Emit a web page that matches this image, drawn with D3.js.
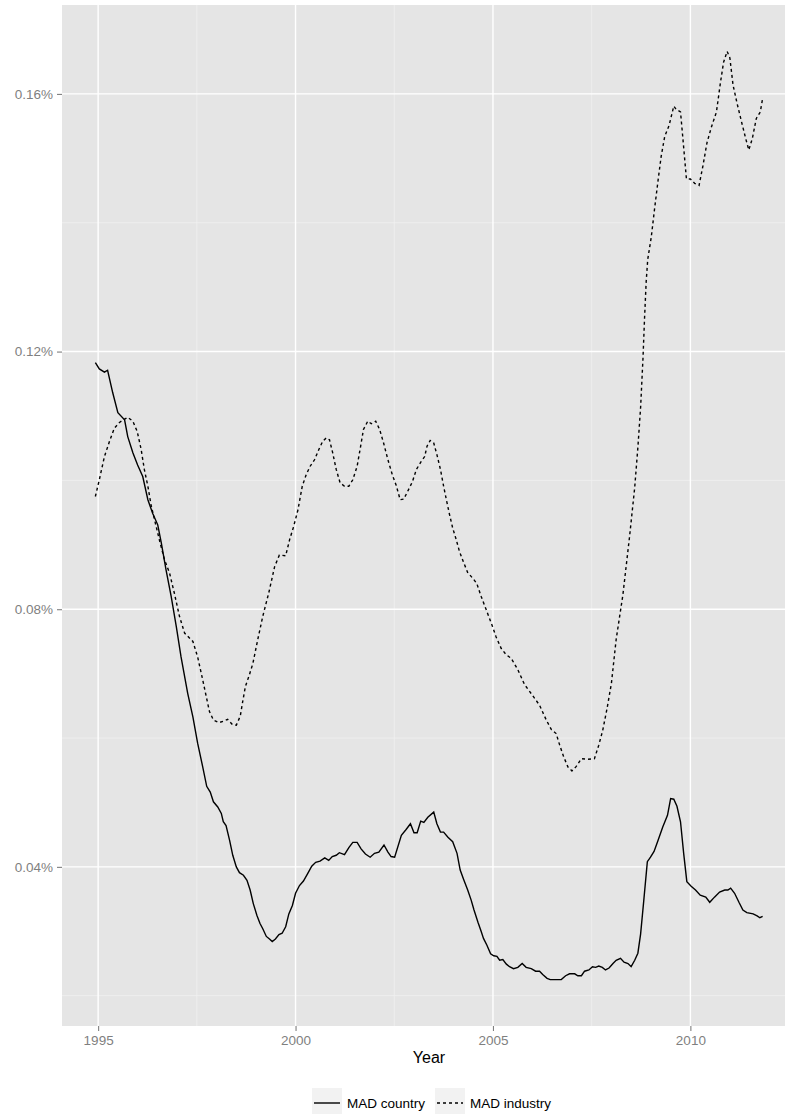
<!DOCTYPE html>
<html>
<head>
<meta charset="utf-8">
<script src="https://cdn.jsdelivr.net/npm/d3@7"></script>
<style>
  body { margin: 0; background: #ffffff; overflow: hidden; }
  svg { display: block; font-family: "Liberation Sans", Arial, sans-serif; }
</style>
</head>
<body>
<svg id="chart"></svg>
<script>
// values in percent, [year, value]
const madCountry = [
  [1994.93, 0.1183], [1995.03, 0.1173], [1995.16, 0.1168], [1995.24, 0.1171], [1995.37, 0.1136],
  [1995.50, 0.1105], [1995.67, 0.1094], [1995.75, 0.1068], [1995.88, 0.1043], [1996.00, 0.1024],
  [1996.13, 0.1006], [1996.26, 0.0970], [1996.38, 0.0949], [1996.51, 0.0931], [1996.60, 0.0903],
  [1996.72, 0.0861], [1996.85, 0.0820], [1996.98, 0.0773], [1997.10, 0.0726], [1997.27, 0.0669],
  [1997.40, 0.0633], [1997.52, 0.0592], [1997.65, 0.0555], [1997.75, 0.0525], [1997.84, 0.0516],
  [1997.92, 0.0501], [1998.03, 0.0493], [1998.12, 0.0483], [1998.17, 0.0470], [1998.24, 0.0464],
  [1998.33, 0.0441], [1998.41, 0.0418], [1998.50, 0.0400], [1998.58, 0.0391], [1998.68, 0.0387],
  [1998.77, 0.0379], [1998.85, 0.0364], [1998.93, 0.0343], [1999.02, 0.0325], [1999.10, 0.0312],
  [1999.17, 0.0304], [1999.26, 0.0292], [1999.34, 0.0288], [1999.41, 0.0284], [1999.49, 0.0288],
  [1999.58, 0.0295], [1999.66, 0.0297], [1999.75, 0.0307], [1999.83, 0.0327], [1999.92, 0.0340],
  [2000.00, 0.0359], [2000.10, 0.0371], [2000.20, 0.0378], [2000.31, 0.0390], [2000.41, 0.0401],
  [2000.51, 0.0407], [2000.62, 0.0409], [2000.74, 0.0414], [2000.84, 0.0410], [2000.93, 0.0416],
  [2001.03, 0.0418], [2001.11, 0.0422], [2001.24, 0.0419], [2001.35, 0.0430], [2001.45, 0.0438],
  [2001.56, 0.0438], [2001.66, 0.0428], [2001.77, 0.0420], [2001.89, 0.0415], [2002.00, 0.0421],
  [2002.11, 0.0423], [2002.24, 0.0434], [2002.34, 0.0423], [2002.42, 0.0416], [2002.51, 0.0415],
  [2002.68, 0.0449], [2002.80, 0.0458], [2002.91, 0.0467], [2003.00, 0.0453], [2003.08, 0.0453],
  [2003.17, 0.0471], [2003.25, 0.0469], [2003.35, 0.0477], [2003.50, 0.0485], [2003.58, 0.0467],
  [2003.67, 0.0454], [2003.75, 0.0454], [2003.86, 0.0446], [2003.98, 0.0439], [2004.09, 0.0421],
  [2004.17, 0.0395], [2004.26, 0.0380], [2004.36, 0.0364], [2004.45, 0.0348], [2004.52, 0.0333],
  [2004.62, 0.0314], [2004.70, 0.0300], [2004.76, 0.0289], [2004.85, 0.0278], [2004.94, 0.0265],
  [2005.02, 0.0262], [2005.10, 0.0261], [2005.17, 0.0255], [2005.25, 0.0256], [2005.34, 0.0249],
  [2005.42, 0.0245], [2005.52, 0.0242], [2005.63, 0.0244], [2005.74, 0.0250], [2005.84, 0.0244],
  [2005.97, 0.0242], [2006.08, 0.0238], [2006.18, 0.0238], [2006.26, 0.0233], [2006.37, 0.0227],
  [2006.45, 0.0225], [2006.60, 0.0225], [2006.73, 0.0225], [2006.84, 0.0231], [2006.94, 0.0234],
  [2007.07, 0.0234], [2007.15, 0.0231], [2007.24, 0.0231], [2007.32, 0.0238], [2007.43, 0.0240],
  [2007.52, 0.0245], [2007.60, 0.0244], [2007.68, 0.0246], [2007.77, 0.0244], [2007.85, 0.0240],
  [2007.94, 0.0243], [2008.04, 0.0250], [2008.12, 0.0255], [2008.23, 0.0258], [2008.32, 0.0252],
  [2008.42, 0.0250], [2008.50, 0.0245], [2008.59, 0.0255], [2008.67, 0.0266], [2008.74, 0.0296],
  [2008.82, 0.0348], [2008.91, 0.0408], [2008.99, 0.0415], [2009.08, 0.0424], [2009.18, 0.0441],
  [2009.30, 0.0462], [2009.42, 0.0480], [2009.50, 0.0506], [2009.58, 0.0505], [2009.66, 0.0494],
  [2009.75, 0.0470], [2009.83, 0.0421], [2009.91, 0.0377], [2010.02, 0.0370], [2010.13, 0.0364],
  [2010.25, 0.0356], [2010.39, 0.0353], [2010.49, 0.0345], [2010.61, 0.0353], [2010.74, 0.0361],
  [2010.87, 0.0364], [2010.95, 0.0364], [2011.02, 0.0367], [2011.12, 0.0359], [2011.23, 0.0345],
  [2011.33, 0.0333], [2011.43, 0.0329], [2011.59, 0.0327], [2011.69, 0.0324], [2011.76, 0.0321],
  [2011.83, 0.0323]
];

const madIndustry = [
  [1994.93, 0.0975], [1995.03, 0.1001], [1995.16, 0.1037], [1995.29, 0.1061], [1995.41, 0.1081],
  [1995.54, 0.1090], [1995.67, 0.1095], [1995.75, 0.1098], [1995.88, 0.1092], [1995.99, 0.1076],
  [1996.09, 0.1048], [1996.17, 0.1017], [1996.26, 0.0991], [1996.34, 0.0962], [1996.44, 0.0936],
  [1996.55, 0.0908], [1996.68, 0.0877], [1996.81, 0.0856], [1996.93, 0.0825], [1997.06, 0.0789],
  [1997.19, 0.0763], [1997.40, 0.0750], [1997.52, 0.0726], [1997.65, 0.0690], [1997.74, 0.0664],
  [1997.82, 0.0641], [1997.92, 0.0628], [1998.06, 0.0624], [1998.17, 0.0626], [1998.28, 0.0629],
  [1998.40, 0.0621], [1998.50, 0.0620], [1998.60, 0.0634], [1998.66, 0.0656], [1998.73, 0.0680],
  [1998.83, 0.0698], [1998.92, 0.0716], [1999.04, 0.0752], [1999.17, 0.0789], [1999.32, 0.0825],
  [1999.47, 0.0866], [1999.59, 0.0884], [1999.75, 0.0883], [1999.85, 0.0908], [1999.95, 0.0928],
  [2000.06, 0.0954], [2000.17, 0.0991], [2000.27, 0.1009], [2000.37, 0.1022], [2000.48, 0.1032],
  [2000.59, 0.1048], [2000.69, 0.1061], [2000.78, 0.1066], [2000.86, 0.1063], [2000.94, 0.1043],
  [2001.03, 0.1017], [2001.13, 0.0996], [2001.24, 0.0991], [2001.35, 0.0991], [2001.45, 0.1001],
  [2001.56, 0.1022], [2001.64, 0.1050], [2001.72, 0.1079], [2001.83, 0.1092], [2001.92, 0.1088],
  [2002.03, 0.1092], [2002.13, 0.1079], [2002.23, 0.1058], [2002.34, 0.1032], [2002.45, 0.1009],
  [2002.55, 0.0992], [2002.65, 0.0970], [2002.74, 0.0971], [2002.84, 0.0983], [2002.96, 0.0998],
  [2003.06, 0.1017], [2003.18, 0.1029], [2003.27, 0.1037], [2003.33, 0.1053], [2003.41, 0.1062],
  [2003.50, 0.1058], [2003.58, 0.1040], [2003.67, 0.1017], [2003.75, 0.0991], [2003.82, 0.0970],
  [2003.90, 0.0947], [2003.98, 0.0926], [2004.07, 0.0908], [2004.15, 0.0890], [2004.26, 0.0872],
  [2004.36, 0.0857], [2004.49, 0.0848], [2004.59, 0.0840], [2004.70, 0.0820], [2004.83, 0.0799],
  [2004.96, 0.0778], [2005.08, 0.0757], [2005.21, 0.0739], [2005.34, 0.0729], [2005.46, 0.0724],
  [2005.63, 0.0706], [2005.80, 0.0683], [2005.97, 0.0669], [2006.18, 0.0651], [2006.35, 0.0628],
  [2006.48, 0.0613], [2006.60, 0.0607], [2006.69, 0.0589], [2006.79, 0.0571], [2006.90, 0.0555],
  [2007.00, 0.0549], [2007.11, 0.0556], [2007.24, 0.0568], [2007.40, 0.0567], [2007.57, 0.0568],
  [2007.68, 0.0589], [2007.78, 0.0612], [2007.89, 0.0646], [2008.00, 0.0685], [2008.12, 0.0753],
  [2008.29, 0.0822], [2008.46, 0.0913], [2008.59, 0.0989], [2008.67, 0.1051], [2008.74, 0.1114],
  [2008.80, 0.1190], [2008.84, 0.1253], [2008.88, 0.1308], [2008.92, 0.1343], [2009.01, 0.1378],
  [2009.09, 0.1420], [2009.18, 0.1465], [2009.26, 0.1503], [2009.35, 0.1534], [2009.46, 0.1551],
  [2009.58, 0.1581], [2009.64, 0.1576], [2009.75, 0.1572], [2009.81, 0.1531], [2009.90, 0.1468],
  [2010.00, 0.1468], [2010.11, 0.1461], [2010.22, 0.1458], [2010.32, 0.1489], [2010.42, 0.1524],
  [2010.53, 0.1548], [2010.66, 0.1572], [2010.76, 0.1617], [2010.84, 0.1649], [2010.93, 0.1666],
  [2011.00, 0.1656], [2011.08, 0.1614], [2011.18, 0.1586], [2011.29, 0.1558], [2011.40, 0.1531],
  [2011.48, 0.1513], [2011.57, 0.1531], [2011.67, 0.1562], [2011.77, 0.1572], [2011.83, 0.1593]
];

const xTicks = [1995, 2000, 2005, 2010];
const xMinor = [1997.5, 2002.5, 2007.5, 2012.5];
const yTicks = [0.04, 0.08, 0.12, 0.16];
const yMinor = [0.02, 0.06, 0.10, 0.14];
const seriesNames = ['MAD country', 'MAD industry'];
const seriesDash = ['none', '3,3'];

function drawChart() {
    const width = 785;
    const height = 1114;
    const panel = { left: 62, top: 5, right: 796, bottom: 1026 };

    const svg = d3.select('#chart').attr('width', width).attr('height', height);

    const allPoints = madCountry.concat(madIndustry);
    const xExt = d3.extent(allPoints, d => d[0]);
    const yExt = d3.extent(allPoints, d => d[1]);
    const xPad = (xExt[1] - xExt[0]) * 0.05;
    const yPad = (yExt[1] - yExt[0]) * 0.05;

    const xScale = d3.scaleLinear()
        .domain([xExt[0] - xPad, xExt[1] + xPad])
        .range([panel.left, panel.right]);
    const yScale = d3.scaleLinear()
        .domain([yExt[0] - yPad, yExt[1] + yPad])
        .range([panel.bottom, panel.top]);

    // panel background
    svg.append('rect')
        .attr('x', panel.left)
        .attr('y', panel.top)
        .attr('width', panel.right - panel.left)
        .attr('height', panel.bottom - panel.top)
        .attr('fill', '#e5e5e5');

    const grid = svg.append('g');
    yMinor.filter(v => yScale(v) < panel.bottom && yScale(v) > panel.top).forEach(v => {
        grid.append('line')
            .attr('x1', panel.left).attr('x2', panel.right)
            .attr('y1', yScale(v)).attr('y2', yScale(v))
            .attr('stroke', '#f2f2f2').attr('stroke-width', 0.7);
    });
    xMinor.forEach(v => {
        grid.append('line')
            .attr('x1', xScale(v)).attr('x2', xScale(v))
            .attr('y1', panel.top).attr('y2', panel.bottom)
            .attr('stroke', '#f2f2f2').attr('stroke-width', 0.7);
    });
    yTicks.forEach(v => {
        grid.append('line')
            .attr('x1', panel.left).attr('x2', panel.right)
            .attr('y1', yScale(v)).attr('y2', yScale(v))
            .attr('stroke', '#ffffff').attr('stroke-width', 1.4);
    });
    xTicks.forEach(v => {
        grid.append('line')
            .attr('x1', xScale(v)).attr('x2', xScale(v))
            .attr('y1', panel.top).attr('y2', panel.bottom)
            .attr('stroke', '#ffffff').attr('stroke-width', 1.4);
    });

    // series
    const line = d3.line()
        .x(d => xScale(d[0]))
        .y(d => yScale(d[1]));

    [madCountry, madIndustry].forEach((series, i) => {
        svg.append('path')
            .datum(series)
            .attr('fill', 'none')
            .attr('stroke', '#000000')
            .attr('stroke-width', 1.4)
            .attr('stroke-dasharray', seriesDash[i])
            .attr('d', line);
    });

    // axes
    const xAxis = svg.append('g')
        .attr('transform', `translate(0, ${panel.bottom})`)
        .call(d3.axisBottom(xScale).tickValues(xTicks).tickFormat(d3.format('d')).tickSize(5).tickPadding(4));
    xAxis.select('.domain').remove();
    xAxis.selectAll('line').attr('stroke', '#7f7f7f').attr('stroke-width', 1.1);
    xAxis.selectAll('text')
        .attr('fill', '#7f7f7f')
        .style('font-size', '13.5px')
        .style('font-family', '"Liberation Sans", Arial, sans-serif');

    const yAxis = svg.append('g')
        .attr('transform', `translate(${panel.left}, 0)`)
        .call(d3.axisLeft(yScale).tickValues(yTicks).tickFormat(d => d.toFixed(2) + '%').tickSize(5).tickPadding(4));
    yAxis.select('.domain').remove();
    yAxis.selectAll('line').attr('stroke', '#7f7f7f').attr('stroke-width', 1.1);
    yAxis.selectAll('text')
        .attr('fill', '#7f7f7f')
        .style('font-size', '13.5px')
        .style('font-family', '"Liberation Sans", Arial, sans-serif');

    svg.append('text')
        .attr('x', (panel.left + panel.right) / 2)
        .attr('y', 1063)
        .attr('text-anchor', 'middle')
        .attr('fill', '#000000')
        .style('font-size', '16px')
        .text('Year');

    // legend
    const legend = svg.append('g').attr('transform', 'translate(312, 1088)');
    const keyOffsets = [0, 123];
    seriesNames.forEach((name, i) => {
        const g = legend.append('g').attr('transform', `translate(${keyOffsets[i]}, 0)`);
        g.append('rect')
            .attr('x', 0).attr('y', 0)
            .attr('width', 30).attr('height', 27)
            .attr('fill', '#f2f2f2');
        g.append('line')
            .attr('x1', 2).attr('x2', 28)
            .attr('y1', 15).attr('y2', 15)
            .attr('stroke', '#000000')
            .attr('stroke-width', 1.4)
            .attr('stroke-dasharray', seriesDash[i]);
        g.append('text')
            .attr('x', 35)
            .attr('y', 20)
            .attr('fill', '#000000')
            .style('font-size', '13.5px')
            .text(name);
    });
}

drawChart();
</script>
</body>
</html>
